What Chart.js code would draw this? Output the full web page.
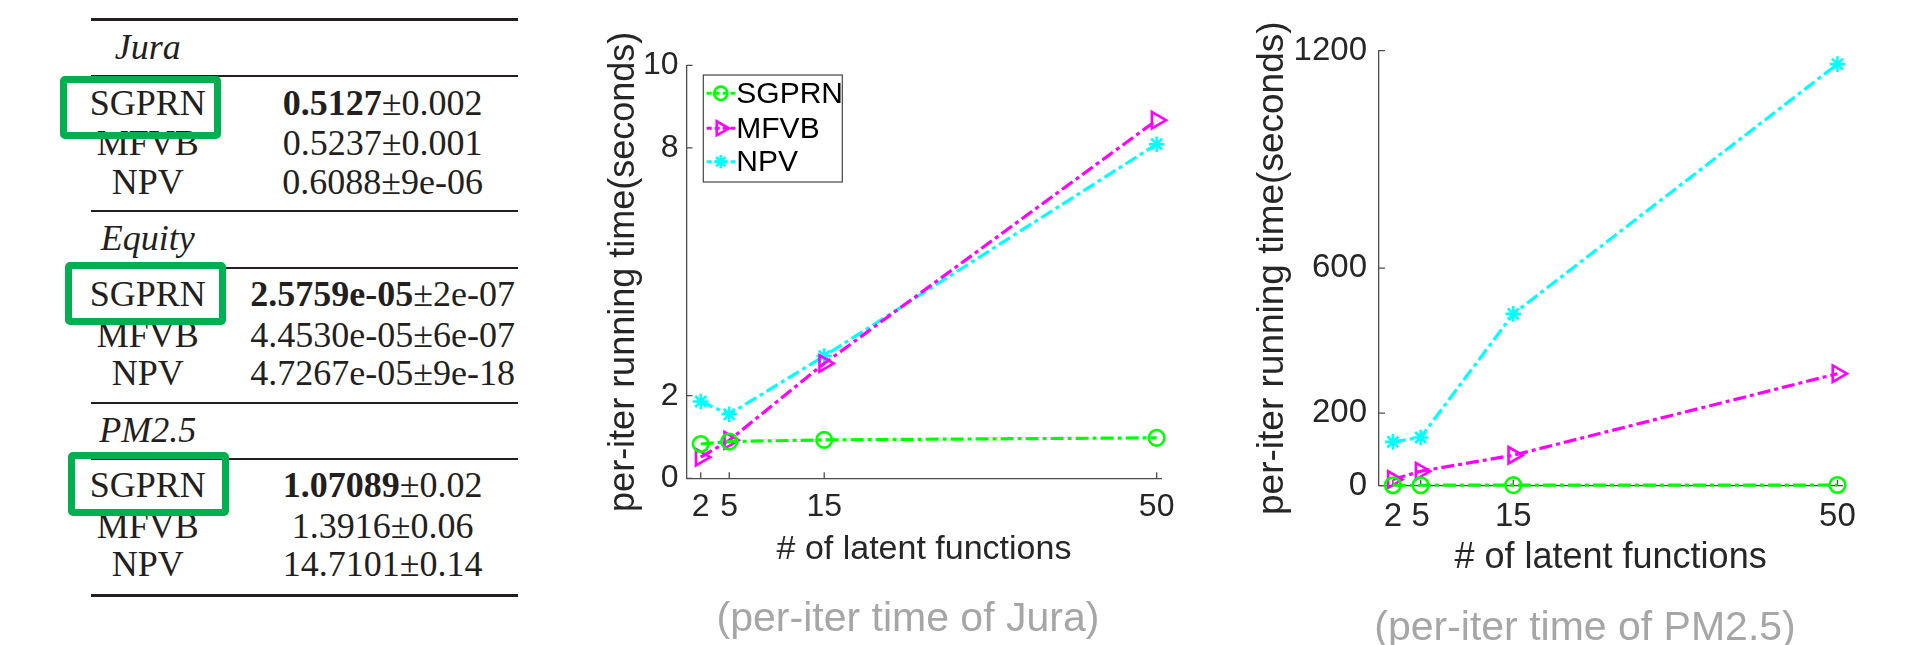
<!DOCTYPE html>
<html>
<head>
<meta charset="utf-8">
<script src="https://cdn.jsdelivr.net/npm/chart.js@4.4.1/dist/chart.umd.min.js"></script>
<style>
  html, body { margin: 0; padding: 0; background: #fff; }
  body { width: 1914px; height: 645px; position: relative; overflow: hidden; }
  .cell { position: absolute; height: 40px; line-height: 40px; white-space: nowrap; text-align: center;
          font-family: "Liberation Serif", "Times New Roman", serif; font-size: 36px; color: #231f20; }
  .cell i { font-style: italic; }
  .rule { position: absolute; left: 91px; width: 427px; background: #231f20; }
  .gbox { position: absolute; box-sizing: border-box; border: 7px solid #00b050; border-radius: 5px; }
  .caption { position: absolute; width: 600px; height: 48px; line-height: 48px; text-align: center; white-space: nowrap;
             font-family: "Liberation Sans", Arial, sans-serif; font-size: 41px; color: #a6a6a6; }
  canvas { position: absolute; top: 0; }
</style>
</head>
<body>
<div id="table"></div>
<canvas id="juraChart" width="600" height="645" style="left:590px"></canvas>
<canvas id="pmChart" width="674" height="645" style="left:1240px"></canvas>
<div class="caption" style="left:608px; top:593px">(per-iter time of Jura)</div>
<div class="caption" style="left:1285px; top:602px">(per-iter time of PM2.5)</div>

<script>
// table values (mean ± std), best one in bold
const sections = ['Jura', 'Equity', 'PM2.5'];
const methods = ['SGPRN', 'MFVB', 'NPV'];
const juraMean = ['0.5127', '0.5237', '0.6088'];
const juraStd = ['0.002', '0.001', '9e-06'];
const equityMean = ['2.5759e-05', '4.4530e-05', '4.7267e-05'];
const equityStd = ['2e-07', '6e-07', '9e-18'];
const pmMean = ['1.07089', '1.3916', '14.7101'];
const pmStd = ['0.02', '0.06', '0.14'];

// per-iter running time (seconds) vs # of latent functions
const latent = [2, 5, 15, 50];
const juraSGPRN = [0.83, 0.89, 0.93, 0.98];
const juraMFVB = [0.51, 0.92, 2.78, 8.67];
const juraNPV = [1.86, 1.55, 2.96, 8.09];
const pmSGPRN = [1.2, 1.3, 1.5, 1.9];
const pmMFVB = [17, 40, 84, 309];
const pmNPV = [121, 133, 474, 1163];

const juraYTicks = [0, 2, 8, 10];
const pmYTicks = [0, 200, 600, 1200];

// ---- table ----
const tableEl = document.getElementById('table');
const headerY = [47, 237.5, 430];
const rowY = [[102.5, 143, 182], [294, 335, 373], [485, 525.5, 564]];
const means = [juraMean, equityMean, pmMean];
const stds = [juraStd, equityStd, pmStd];
const rules = [[19, 3], [76, 2], [211, 2], [268, 2], [403, 2], [459, 2], [595, 3]];
const boxes = [[60.3, 76, 161, 63], [65.4, 262, 161, 63], [67.5, 452, 161.5, 64]];

function addCell(html, cx, cy, w) {
    const d = document.createElement('div');
    d.className = 'cell';
    d.style.left = (cx - w / 2) + 'px';
    d.style.top = (cy - 20) + 'px';
    d.style.width = w + 'px';
    d.innerHTML = html;
    tableEl.appendChild(d);
}

rules.forEach(r => {
    const d = document.createElement('div');
    d.className = 'rule';
    d.style.top = (r[0] - r[1] / 2) + 'px';
    d.style.height = r[1] + 'px';
    tableEl.appendChild(d);
});

sections.forEach((s, i) => {
    addCell('<i>' + s + '</i>', 147.7, headerY[i], 200);
    methods.forEach((m, j) => {
        addCell(m, 147.7, rowY[i][j], 200);
        const mean = j === 0 ? '<b>' + means[i][j] + '</b>' : means[i][j];
        addCell(mean + '±' + stds[i][j], 382.7, rowY[i][j], 340);
    });
});

boxes.forEach(b => {
    const d = document.createElement('div');
    d.className = 'gbox';
    d.style.left = b[0] + 'px';
    d.style.top = b[1] + 'px';
    d.style.width = b[2] + 'px';
    d.style.height = b[3] + 'px';
    tableEl.appendChild(d);
});

// ---- charts ----
const family = '"Liberation Sans", Arial, sans-serif';
const axisColor = '#4d4d4d';
const textColor = '#262626';
const dashDot = [13, 4, 4, 4];

function pts(ys) {
    return latent.map((x, i) => ({ x: x, y: ys[i] }));
}

function series(label, ys, color, style) {
    return {
        label: label,
        data: pts(ys),
        borderColor: color,
        backgroundColor: 'rgba(0,0,0,0)',
        borderWidth: 3.2,
        borderDash: dashDot,
        tension: 0,
        clip: false,
        pointStyle: style,
        pointRotation: style === 'triangle' ? 90 : 0,
        pointRadius: style === 'triangle' ? 9.5 : 7.8,
        pointBorderWidth: 2.6,
        pointBorderColor: color,
        pointBackgroundColor: 'rgba(0,0,0,0)'
    };
}

// MATLAB-like tick marks pointing into the plot
const innerTicks = {
    id: 'innerTicks',
    beforeDatasetsDraw(chart) {
        const { ctx, chartArea: a, scales: { x, y } } = chart;
        ctx.save();
        ctx.strokeStyle = axisColor;
        ctx.lineWidth = 1.3;
        ctx.beginPath();
        x.ticks.forEach(t => {
            const px = x.getPixelForValue(t.value);
            ctx.moveTo(px, a.bottom);
            ctx.lineTo(px, a.bottom - 6);
        });
        y.ticks.forEach(t => {
            const py = y.getPixelForValue(t.value);
            ctx.moveTo(a.left, py);
            ctx.lineTo(a.left + 6, py);
        });
        ctx.stroke();
        ctx.restore();
    }
};

// boxed legend in the upper-left corner of the plot
const boxLegend = {
    id: 'boxLegend',
    afterDatasetsDraw(chart) {
        const { ctx, chartArea: a } = chart;
        const bx = a.left + 16.8, by = a.top + 9.7, bw = 139, bh = 107;
        const rows = [18.3, 53.3, 86.7];
        ctx.save();
        ctx.fillStyle = '#fff';
        ctx.fillRect(bx, by, bw, bh);
        ctx.strokeStyle = '#444';
        ctx.lineWidth = 1.2;
        ctx.strokeRect(bx, by, bw, bh);
        chart.data.datasets.forEach((ds, i) => {
            const cy = by + rows[i];
            ctx.strokeStyle = ds.borderColor;
            ctx.lineWidth = 3;
            ctx.setLineDash([5, 3]);
            ctx.beginPath();
            ctx.moveTo(bx + 3.4, cy);
            ctx.lineTo(bx + 32, cy);
            ctx.stroke();
            ctx.setLineDash([]);
            ctx.fillStyle = 'rgba(0,0,0,0)';
            ctx.lineWidth = ds.pointBorderWidth;
            Chart.helpers.drawPoint(ctx, {
                pointStyle: ds.pointStyle, rotation: ds.pointRotation,
                radius: ds.pointRadius * 0.85, borderWidth: ds.pointBorderWidth
            }, bx + 17.5, cy);
            ctx.fillStyle = '#000';
            ctx.font = '30px ' + family;
            ctx.textAlign = 'left';
            ctx.textBaseline = 'middle';
            ctx.fillText(ds.label, bx + 33, cy + 1);
        });
        ctx.restore();
    }
};

function makeChart(id, cfg) {
    return new Chart(document.getElementById(id), {
        type: 'line',
        data: {
            datasets: [
                series('SGPRN', cfg.sgprn, '#00ff00', 'circle'),
                series('MFVB', cfg.mfvb, '#ff00ff', 'triangle'),
                series('NPV', cfg.npv, '#00ffff', 'star')
            ]
        },
        options: {
            responsive: false,
            animation: false,
            layout: { padding: cfg.padding },
            plugins: {
                legend: { display: false },
                tooltip: { enabled: false }
            },
            scales: {
                x: {
                    type: 'linear',
                    min: 0.5,
                    max: 50.5,
                    afterBuildTicks: s => { s.ticks = latent.map(v => ({ value: v })); },
                    afterFit: s => { s.height = 100; },
                    grid: { drawOnChartArea: false, drawTicks: false },
                    border: { color: axisColor, width: 1.3 },
                    ticks: {
                        color: textColor, font: { family: family, size: cfg.tickSize },
                        padding: cfg.xTickPad, maxRotation: 0, autoSkip: false,
                        callback: v => String(v)
                    },
                    title: {
                        display: true, text: '# of latent functions', color: textColor,
                        font: { family: family, size: cfg.xTitleSize },
                        padding: { top: 0, bottom: cfg.xTitlePad }
                    }
                },
                y: {
                    min: 0,
                    max: cfg.yMax,
                    afterBuildTicks: s => { s.ticks = cfg.yTicks.map(v => ({ value: v })); },
                    afterFit: s => { s.width = cfg.yWidth; },
                    grid: { drawOnChartArea: false, drawTicks: false },
                    border: { color: axisColor, width: 1.3 },
                    ticks: {
                        color: textColor, font: { family: family, size: cfg.tickSize },
                        padding: cfg.yTickPad, autoSkip: false,
                        callback: v => String(v)
                    },
                    title: {
                        display: true, text: 'per-iter running time(seconds)', color: textColor,
                        font: { family: family, size: cfg.yTitleSize },
                        padding: { top: cfg.yTitlePad, bottom: 0 }
                    }
                }
            }
        },
        plugins: cfg.legend ? [innerTicks, boxLegend] : [innerTicks]
    });
}

makeChart('juraChart', {
    sgprn: juraSGPRN, mfvb: juraMFVB, npv: juraNPV,
    yTicks: juraYTicks, yMax: 10, legend: true,
    padding: { left: 0, top: 65.3, right: 28.6, bottom: 66.7 },
    yWidth: 96.5, tickSize: 32, xTickPad: 10, yTickPad: 8,
    xTitleSize: 34, xTitlePad: 7.9, yTitleSize: 36, yTitlePad: 12
});

makeChart('pmChart', {
    sgprn: pmSGPRN, mfvb: pmMFVB, npv: pmNPV,
    yTicks: pmYTicks, yMax: 1200, legend: false,
    padding: { left: 0, top: 50.7, right: 71.9, bottom: 59.3 },
    yWidth: 139, tickSize: 33, xTickPad: 11.5, yTickPad: 12,
    xTitleSize: 36, xTitlePad: 6.2, yTitleSize: 37, yTitlePad: 10.8
});
</script>
</body>
</html>
